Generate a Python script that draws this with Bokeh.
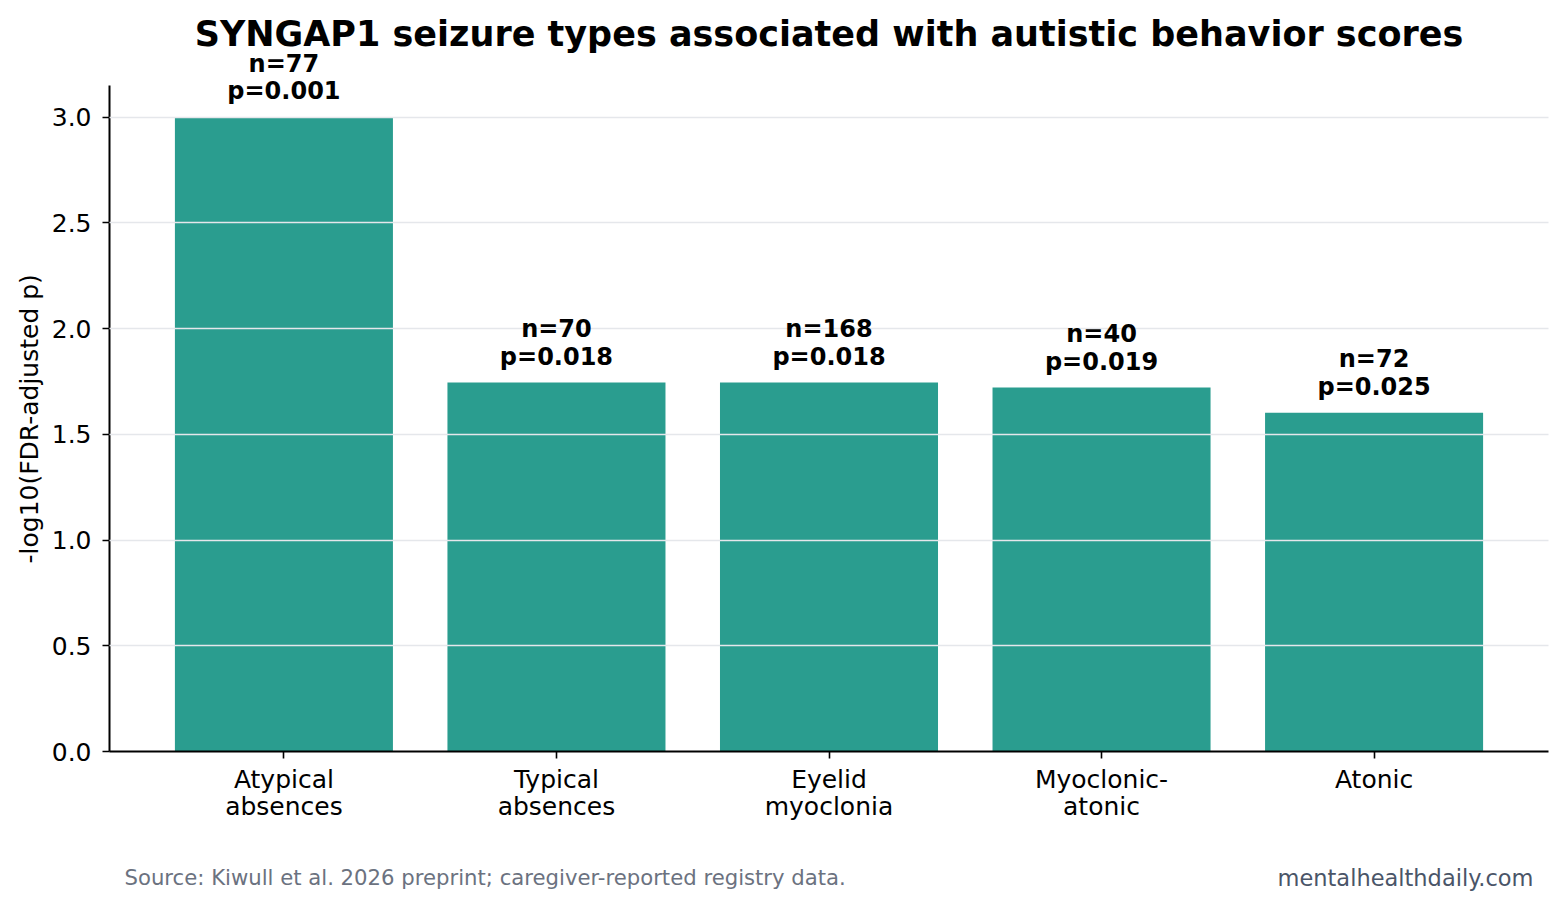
import numpy as np
from bokeh.plotting import figure
from bokeh.layouts import column
from bokeh.models import ColumnDataSource, FactorRange, Label, Title, CustomJSTickFormatter
from bokeh.core.properties import value
from bokeh.embed import file_html
from bokeh.resources import INLINE

# Seizure types and their association statistics
seizure_types = ["Atypical\nabsences", "Typical\nabsences", "Eyelid\nmyoclonia",
                 "Myoclonic-\natonic", "Atonic"]
n_patients = [77, 70, 168, 40, 72]
fdr_p = [0.001, 0.018, 0.018, 0.019, 0.025]
y_ticks = [0.0, 0.5, 1.0, 1.5, 2.0, 2.5, 3.0]

neg_log_p = [-np.log10(pv) for pv in fdr_p]
bar_labels = [f"n={n}\np={pv:.3f}" for n, pv in zip(n_patients, fdr_p)]

FONT = "DejaVu Sans"
TEAL = "#2a9d8f"

# axis spine runs 0..3.15; the frame reaches higher so the title and labels fit
AXIS_TOP = 3.15
FRAME_TOP = AXIS_TOP * 751 / 666

source = ColumnDataSource(dict(cat=seizure_types, val=neg_log_p, label=bar_labels))

p = figure(
    width=1565, height=840,
    x_range=FactorRange(factors=seizure_types, range_padding=0.056),
    y_range=(0, FRAME_TOP),
    output_backend="svg", toolbar_location=None,
    min_border_left=109, min_border_right=17,
    min_border_top=0, min_border_bottom=89,
)
p.outline_line_color = None
p.background_fill_color = "white"
p.border_fill_color = "white"

p.vbar(x="cat", top="val", width=0.8, source=source,
       fill_color=TEAL, line_color=None)

p.text(x="cat", y="val", text="label", source=source,
       text_align="center", text_baseline="bottom", y_offset=-12,
       text_font=value(FONT), text_font_style="bold",
       text_font_size="24px", text_color="black", text_line_height=0.98,
       level="overlay")

# light grid drawn on top of the bars
p.xgrid.grid_line_color = None
p.ygrid.grid_line_color = "#e5e7eb"
p.ygrid.grid_line_width = 1.5
p.ygrid.level = "guide"
p.yaxis.ticker = y_ticks
p.yaxis.bounds = (0, AXIS_TOP)

for ax in (p.xaxis, p.yaxis):
    ax.axis_line_color = "black"
    ax.axis_line_width = 2
    ax.major_tick_line_color = "black"
    ax.major_tick_line_width = 1.6
    ax.major_tick_out = 7
    ax.major_tick_in = 0
    ax.minor_tick_line_color = None
    ax.major_label_text_font = FONT
    ax.major_label_text_font_size = "25px"
    ax.major_label_text_color = "black"

p.yaxis.major_label_standoff = 11
p.xaxis.major_label_standoff = 6
p.xaxis.major_label_text_line_height = 0.96
p.yaxis.formatter = CustomJSTickFormatter(code="return tick.toFixed(1);")

# y axis title, centred on the spine rather than the taller frame
p.add_layout(Title(
    text="-log10(FDR-adjusted p)", align="left", offset=188, standoff=9,
    text_font=FONT, text_font_style="normal", text_font_size="25px",
    text_color="black"), "left")

p.add_layout(Label(
    x=719.5, y=718, x_units="screen", y_units="screen",
    text="SYNGAP1 seizure types associated with autistic behavior scores",
    text_align="center", text_baseline="middle",
    text_font=FONT, text_font_style="bold", text_font_size="35px",
    text_color="black"))

# footer strip with source note and site name
foot = figure(
    width=1565, height=67, x_range=(109, 1548), y_range=(0, 67),
    x_axis_type=None, y_axis_type=None,
    output_backend="svg", toolbar_location=None,
    min_border_left=109, min_border_right=17, min_border_top=0, min_border_bottom=0,
)
foot.outline_line_color = None
foot.xgrid.grid_line_color = None
foot.ygrid.grid_line_color = None
foot.text(x=[124], y=[30],
          text=["Source: Kiwull et al. 2026 preprint; caregiver-reported registry data."],
          text_align="left", text_baseline="middle",
          text_font=value(FONT), text_font_size="21.2px", text_color="#6b7280")
foot.text(x=[1533], y=[30], text=["mentalhealthdaily.com"],
          text_align="right", text_baseline="middle",
          text_font=value(FONT), text_font_size="22.5px", text_color="#4a5568")

layout = column(p, foot, spacing=0)
open("out.html", "w").write(file_html(layout, INLINE))
